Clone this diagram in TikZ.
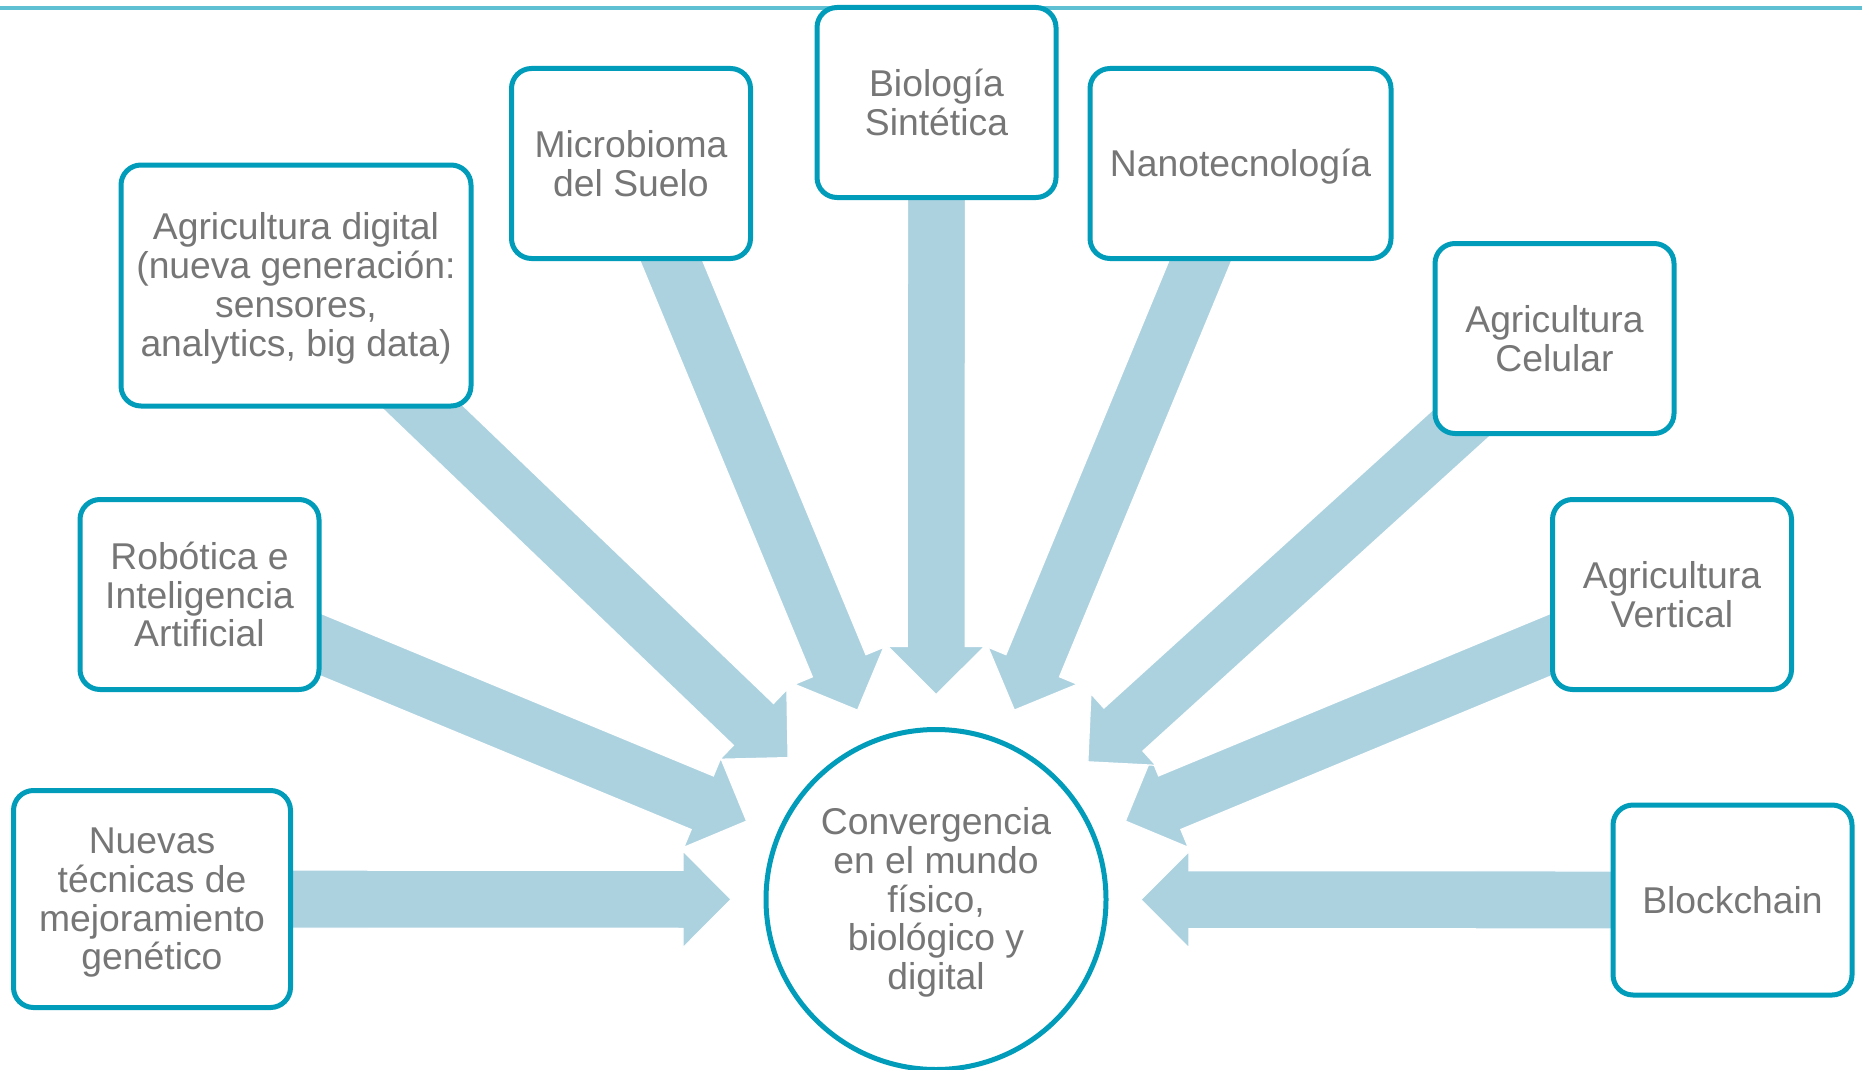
\documentclass[tikz,border=0pt]{standalone}
\usepackage{fontspec}
\setmainfont{Liberation Sans}
\usetikzlibrary{calc,backgrounds}
\definecolor{tealline}{RGB}{0,156,185}
\definecolor{arrowblue}{RGB}{172,210,224}
\definecolor{txtgray}{RGB}{118,118,118}
\definecolor{toprule}{RGB}{95,192,212}
\newcommand\firstln{\rule{0pt}{33pt}}
\tikzset{
  box/.style={rectangle, draw=tealline, line width=5pt, fill=white, rounded corners=20pt,
    align=center, text=txtgray, inner sep=0pt,
    font=\fontsize{37.3}{38.8}\selectfont, minimum width=239pt, minimum height=190pt},
  hub/.style={circle, draw=tealline, line width=5pt, fill=white, align=center,
    text=txtgray, inner sep=0pt, minimum size=340pt,
    font=\fontsize{37.3}{38.8}\selectfont},
  blockarrow/.style={fill=arrowblue, draw=white, line width=1.2pt, line join=miter},
}
\newcommand\convarrow[1]{%
  \coordinate (T) at (#1.center);
  \coordinate (P) at ($(conv.center)!205pt!(T)$);
  \coordinate (H) at ($(P)!48pt!(T)$);
  \path[blockarrow] ($(T)!29pt!90:(P)$) -- ($(H)!29pt!90:(P)$) -- ($(H)!48.3pt!90:(P)$)
     -- (P) -- ($(H)!48.3pt!-90:(P)$) -- ($(H)!29pt!-90:(P)$) -- ($(T)!29pt!-90:(P)$) -- cycle;
}
\begin{document}
\begin{tikzpicture}[x=1pt,y=-1pt]
\useasboundingbox (0,0) rectangle (1862,1070);
\node[hub] (conv) at (936,899.5) {\firstln Convergencia\\en el mundo\\físico,\\biológico y\\digital};
\node[box, minimum width=277pt, minimum height=217pt] (nuevas) at (152,899) {\firstln Nuevas\\técnicas de\\mejoramiento\\genético};
\node[box] (robotica) at (199.5,594.5) {Robótica e\\Inteligencia\\Artificial};
\node[box, minimum width=350pt, minimum height=241pt] (agdigital) at (296,285.5) {\firstln Agricultura digital\\(nueva generación:\\sensores,\\analytics, big data)};
\node[box] (microbioma) at (631,163.5) {Microbioma\\del Suelo};
\node[box] (biologia) at (936.5,102.5) {Biología\\Sintética};
\node[box, minimum width=301pt] (nano) at (1240.5,163.5) {\firstln Nanotecnología};
\node[box] (celular) at (1554.5,338.5) {Agricultura\\Celular};
\node[box] (vertical) at (1672,594.5) {Agricultura\\Vertical};
\node[box] (blockchain) at (1732.5,900) {Blockchain};
\begin{scope}[on background layer]
  \draw[toprule, line width=4.5pt] (0,8) -- (1862,8);
  \convarrow{nuevas}
  \convarrow{blockchain}
  \convarrow{robotica}
  \convarrow{vertical}
  \convarrow{agdigital}
  \convarrow{celular}
  \convarrow{biologia}
  \convarrow{microbioma}
  \convarrow{nano}
\end{scope}
\end{tikzpicture}
\end{document}
